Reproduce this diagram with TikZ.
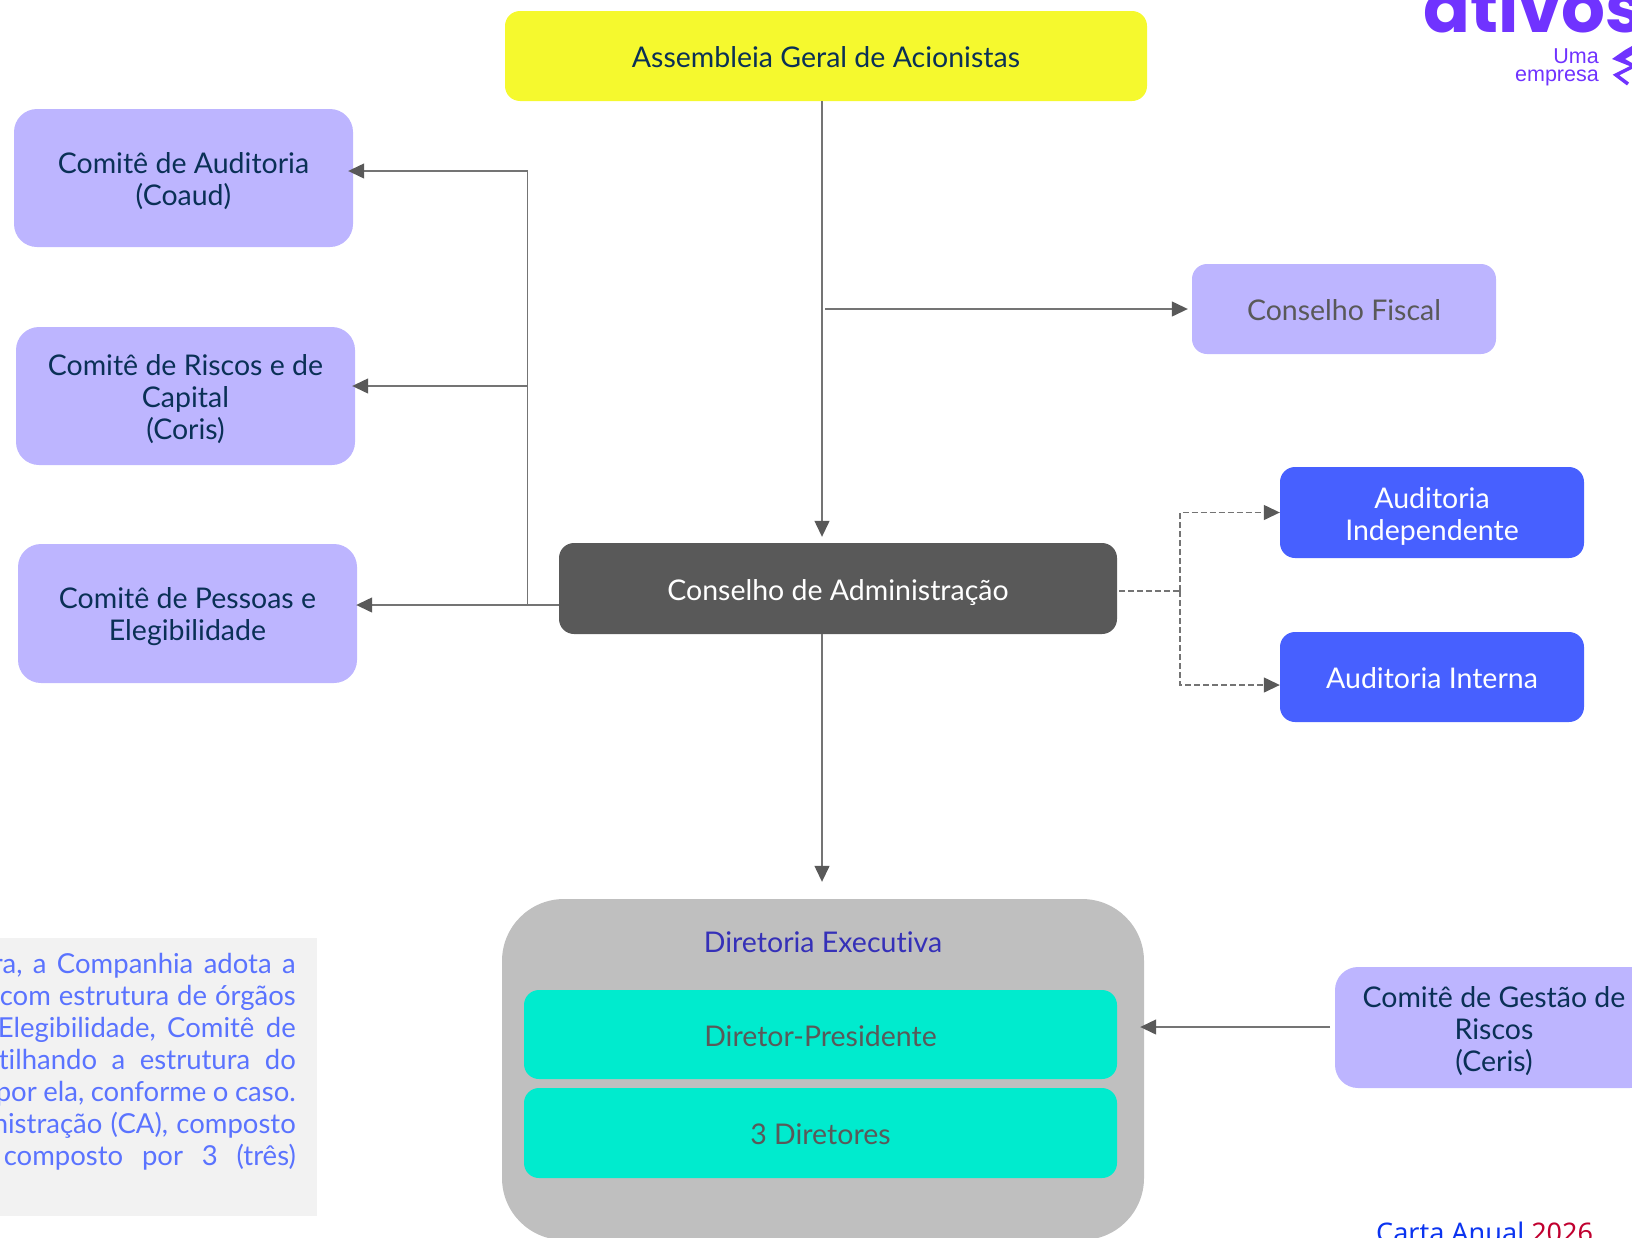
\documentclass[tikz,border=0pt]{standalone}
\usepackage{fontspec}
\setmainfont{Lato}[Ligatures=NoCommon]
\newfontfamily\logofont{Poppins}
\newfontfamily\smallfont{Liberation Sans}
\newfontfamily\cartafont{Noto Sans}
\usetikzlibrary{arrows.meta}
\definecolor{cYellow}{HTML}{F5F92E}
\definecolor{cLav}{HTML}{BDB5FF}
\definecolor{cBlue}{HTML}{4760FF}
\definecolor{cDark}{HTML}{595959}
\definecolor{cLine}{HTML}{747474}
\definecolor{cTeal}{HTML}{00EBCE}
\definecolor{cGrey}{HTML}{BFBFBF}
\definecolor{cPanel}{HTML}{F2F2F2}
\definecolor{cNavy}{HTML}{0A3056}
\definecolor{cIndigo}{HTML}{3530B8}
\definecolor{cPara}{HTML}{5A73FF}
\definecolor{cLogo}{HTML}{7033FF}
\definecolor{cCartaB}{HTML}{0B34F0}
\definecolor{cCartaR}{HTML}{C0002F}
\newcommand{\jline}[2]{\hbox to #1{#2}}
\newcommand{\gp}{\hskip 5pt plus 1fil\relax}
\newcommand{\pad}{\mbox{}\\[-4pt]}
\tikzset{
  box/.style={rectangle,rounded corners=15pt,inner sep=0pt,align=center,font=\fontsize{28.5}{32}\selectfont,text=cNavy},
  one/.style={execute at begin node=\rule[-6pt]{0pt}{35pt}},
  lav/.style={box,rounded corners=23pt,fill=cLav},
  blu/.style={box,fill=cBlue,text=white},
  tea/.style={box,one,fill=cTeal,text=cDark},
  conn/.style={draw=cLine,line width=1.3pt},
  arr/.style={conn,-{Triangle[length=16pt,width=15pt,color=cDark]}},
  dsh/.style={conn,dash pattern=on 6pt off 3pt},
  darr/.style={dsh,-{Triangle[length=16pt,width=15pt,color=cDark]}},
  para/.style={anchor=base east,inner sep=0pt,text=cPara,font=\fontsize{27.5}{32}\selectfont},
}
\begin{document}
\begin{tikzpicture}[x=1pt,y=-1pt]
\useasboundingbox (0,0) rectangle (1632,1237);
\begin{scope}
\clip (0,0) rectangle (1632,1237);
% panel
\node[fill=cPanel,minimum width=337pt,minimum height=278pt,inner sep=0pt] (panel) at (148.5,1077) {};
\node[para] (p1) at (296,973) {\jline{303pt}{ra,\gp a\gp Companhia\gp adota\gp a}};
\node[para] (p2) at (296,1005) {\jline{296pt}{com\gp estrutura\gp de\gp órgãos}};
\node[para] (p3) at (296,1037) {\jline{298pt}{Elegibilidade,\gp Comitê\gp de}};
\node[para] (p4) at (296,1069) {\jline{297pt}{tilhando\gp a\gp estrutura\gp do}};
\node[para] (p5) at (296,1101) {\jline{300pt}{por\gp ela,\gp conforme\gp o\gp caso.}};
\node[para] (p6) at (296,1133) {\jline{303pt}{nistração\gp (CA),\gp composto}};
\node[para] (p7) at (296,1165) {\jline{292pt}{composto\gp por\gp 3\gp (três)}};
% boxes
\node[box,one,fill=cYellow,minimum width=642pt,minimum height=90pt] (ag) at (826,56) {Assembleia Geral de Acionistas};
\node[lav,minimum width=339pt,minimum height=138pt] (coaud) at (183.5,178) {\pad Comitê de Auditoria\\(Coaud)};
\node[lav,minimum width=339pt,minimum height=138pt] (coris) at (185.5,396) {\pad Comitê de Riscos e de\\Capital\\(Coris)};
\node[lav,minimum width=339pt,minimum height=139pt] (pess) at (187.5,613.5) {\pad Comitê de Pessoas e\\Elegibilidade};
\node[lav,one,text=cDark,rounded corners=15pt,minimum width=304pt,minimum height=90pt] (fiscal) at (1344,309) {Conselho Fiscal};
\node[blu,minimum width=304pt,minimum height=91pt] (indep) at (1432,512.5) {\pad Auditoria\\Independente};
\node[blu,one,minimum width=304pt,minimum height=90pt] (inter) at (1432,677) {Auditoria Interna};
\node[box,one,fill=cDark,text=white,minimum width=558pt,minimum height=91pt] (ca) at (838,588.5) {Conselho de Administração};
\node[rectangle,rounded corners=62pt,fill=cGrey,minimum width=642pt,minimum height=341pt,inner sep=0pt] (dir) at (823,1069.5) {};
\node[inner sep=0pt,text=cIndigo,font=\fontsize{28.5}{32}\selectfont] (dirt) at (823,942) {Diretoria Executiva};
\node[tea,minimum width=593pt,minimum height=89pt] (pres) at (820.5,1034.5) {Diretor-Presidente};
\node[tea,minimum width=593pt,minimum height=90pt] (tres) at (820.5,1133) {3 Diretores};
\node[lav,minimum width=318pt,minimum height=121pt] (ceris) at (1494,1027.5) {\pad Comitê de Gestão de\\Riscos\\(Ceris)};
% connectors
\coordinate (tx) at (822,300);
\coordinate (fork) at (1180,591);
\coordinate (fx) at (825,309);
\coordinate (cerisEnd) at (1330,1027);
\draw[arr] (ag.south -| tx) -- ([yshift=6pt]ca.north -| tx);
\draw[arr] (ca.south -| tx) -- ([yshift=17pt]dir.north -| tx);
\draw[arr] (fx) -- ([xshift=-4pt]fiscal.west);
\coordinate (c1) at (527.5,171);
\coordinate (c2) at (527.5,386);
\coordinate (c3) at (527.5,605);
\draw[conn] (c1) -- (c3);
\draw[arr,shorten >=-5pt] (c1) -- (coaud.east |- c1);
\draw[arr,shorten >=-3pt] (c2) -- (coris.east |- c2);
\draw[arr,shorten >=-1pt] (ca.west |- c3) -- (pess.east |- c3);
\draw[arr,shorten >=-4pt] (cerisEnd) -- (dir.east |- cerisEnd);
\draw[dsh] ([xshift=2pt]ca.east |- fork) -- (fork);
\draw[darr] (fork) |- (indep.west);
\draw[darr] (fork) |- (inter.west |- 0,685);
% logo
\node[anchor=base west,inner sep=0pt,text=cLogo,font=\logofont\bfseries\fontsize{69}{69}\selectfont] (logo) at (1423,32) {ativos};
\node[anchor=base east,inner sep=0pt,text=cLogo,font=\smallfont\fontsize{21.5}{18}\selectfont] (uma) at (1599,63) {Uma};
\node[anchor=base east,inner sep=0pt,text=cLogo,font=\smallfont\fontsize{21.5}{18}\selectfont] (emp) at (1599,81) {empresa};
\fill[cLogo] (1632,46) -- (1632,55) -- (1625,59) -- (1632,63) -- (1632,67) -- (1612,59) -- (1625,50) -- cycle;
\draw[cLogo,line width=3.5pt] (1632,67) -- (1616,75) -- (1628,84);
% footer
\node[anchor=base west,inner sep=0pt,font=\cartafont\fontsize{27}{32}\selectfont] (carta) at (1376,1242) {\textcolor{cCartaB}{Carta Anual} \textcolor{cCartaR}{2026}};
\end{scope}
\end{tikzpicture}
\end{document}
